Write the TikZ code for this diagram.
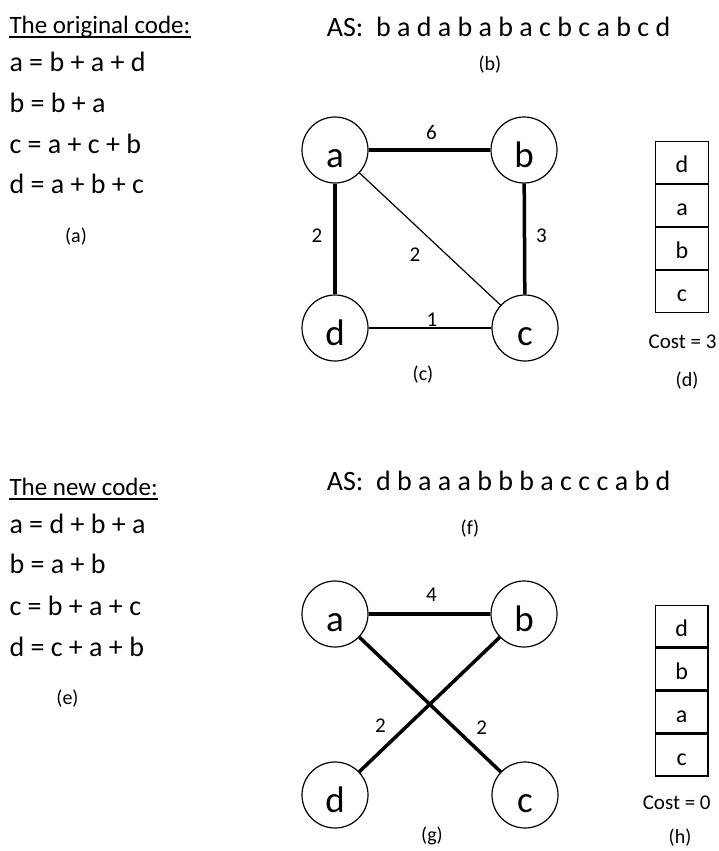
\documentclass[tikz,border=0pt]{standalone}
\usepackage{fontspec}
\setmainfont{Carlito}
\usetikzlibrary{positioning}
\newcommand{\fsz}[1]{\fontsize{#1}{#1}\selectfont}
\tikzset{
  txt/.style={inner sep=0pt, anchor=base west},
  headline/.style={txt, font={\fsz{25}}},
  codeline/.style={txt, font={\fsz{28}}},
  seqline/.style={txt, font={\fsz{28}}},
  caption/.style={inner sep=0pt, font={\fsz{20}}},
  vtx/.style={circle, draw, line width=1.2pt, minimum size=66pt, inner sep=0pt,
    font={\fsz{37}}, text height=34pt, text depth=0pt},
  heavy/.style={line width=3.5pt},
  light/.style={line width=1.2pt},
  wt/.style={inner sep=0pt, font={\fsz{21}}},
  cell/.style={rectangle, draw, line width=1.3pt, minimum width=52.6pt, minimum height=41.7pt,
    inner sep=0pt, font={\fsz{24}}, text height=20pt, text depth=0pt},
  costtxt/.style={inner sep=0pt, font={\fsz{21}}},
  uline/.style={line width=1.6pt}
}
\begin{document}
\begin{tikzpicture}[x=1pt,y=-1pt]
\useasboundingbox (0,0) rectangle (719,851);

% ---------- original code ----------
\node[headline] (t1) at (9.3,33.3) {The original code:};
\draw[uline] ([yshift=-4pt]t1.base west) -- ([yshift=-4pt]t1.base east);
\node[codeline] (o1) at (9.3,71.7) {a = b + a + d};
\node[codeline] (o2) at (9.3,112) {b = b + a};
\node[codeline] (o3) at (9.3,153) {c = a + c + b};
\node[codeline] (o4) at (9.3,193.5) {d = a + b + c};
\node[caption] (capa) at (76,237) {(a)};

\node[seqline] (as1) at (326.7,36.7) {AS:\ \ b a d a b a b a c b c a b c d};
\node[caption] (capb) at (490,65) {(b)};

% ---------- first access graph ----------
\node[vtx] (a1) at (335,150) {a};
\node[vtx] (b1) at (524,150) {b};
\node[vtx] (d1) at (335,328) {d};
\node[vtx] (c1) at (525,328) {c};
\draw[heavy] (a1) -- node[wt, midway, xshift=2pt, yshift=18pt] {6} (b1);
\draw[heavy] (a1) -- node[wt, midway, xshift=-18pt, yshift=3pt] {2} (d1);
\draw[heavy] (b1) -- node[wt, midway, xshift=17pt, yshift=3pt] {3} (c1);
\draw[light] (a1) -- node[wt, midway, xshift=-15pt, yshift=-16pt] {2} (c1);
\draw[light] (d1) -- node[wt, midway, xshift=2pt, yshift=8.5pt] {1} (c1);
\node[caption] (capc) at (423,375) {(c)};

% ---------- first stack ----------
\node[cell] (s11) at (682,162.5) {d};
\node[cell, below=0pt of s11] (s12) {a};
\node[cell, below=0pt of s12] (s13) {b};
\node[cell, below=0pt of s13] (s14) {c};
\node[costtxt] (cost1) at (682.5,342) {Cost = 3};
\node[caption] (capd) at (687,381) {(d)};

% ---------- new code ----------
\node[headline] (t2) at (9.3,495) {The new code:};
\draw[uline] ([yshift=-4pt]t2.base west) -- ([yshift=-4pt]t2.base east);
\node[codeline] (n1) at (9.3,533.3) {a = d + b + a};
\node[codeline] (n2) at (9.3,573.3) {b = a + b};
\node[codeline] (n3) at (9.3,615) {c = b + a + c};
\node[codeline] (n4) at (9.3,656.7) {d = c + a + b};
\node[caption] (cape) at (67.5,699) {(e)};

\node[seqline] (as2) at (326.7,490) {AS:\ \ d b a a a b b b a c c c a b d};
\node[caption] (capf) at (470,529) {(f)};

% ---------- second access graph ----------
\node[vtx] (a2) at (335,614) {a};
\node[vtx] (b2) at (524,614) {b};
\node[vtx] (d2) at (335,795) {d};
\node[vtx] (c2) at (525,795) {c};
\draw[heavy] (a2) -- node[wt, midway, xshift=2pt, yshift=19pt] {4} (b2);
\draw[heavy] (a2) -- node[wt, pos=0.773, xshift=13.2pt, yshift=13.9pt] {2} (c2);
\draw[heavy] (d2) -- node[wt, pos=0.242, xshift=-12.7pt, yshift=13.2pt] {2} (b2);
\node[caption] (capg) at (432,836) {(g)};

% ---------- second stack ----------
\node[cell] (s21) at (681.7,626) {d};
\node[cell, below=0pt of s21] (s22) {b};
\node[cell, below=0pt of s22] (s23) {a};
\node[cell, below=0pt of s23] (s24) {c};
\node[costtxt] (cost2) at (676.7,803) {Cost = 0};
\node[caption] (caph) at (680,838) {(h)};
\end{tikzpicture}
\end{document}
